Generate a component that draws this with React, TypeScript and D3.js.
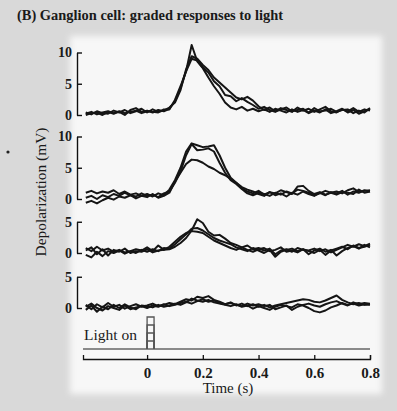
import React, { useEffect, useRef } from "react";
import * as d3 from "d3";

// time samples (s)
const TIME = [
  -0.22, -0.2, -0.18, -0.16, -0.14, -0.12, -0.1, -0.08, -0.06, -0.04, -0.02, 0.0,
  0.02, 0.04, 0.06, 0.08, 0.1, 0.12, 0.14, 0.16, 0.18, 0.2, 0.22, 0.24, 0.26, 0.28,
  0.3, 0.32, 0.34, 0.36, 0.38, 0.4, 0.42, 0.44, 0.46, 0.48, 0.5, 0.52, 0.54, 0.56,
  0.58, 0.6, 0.62, 0.64, 0.66, 0.68, 0.7, 0.72, 0.74, 0.76, 0.78, 0.8,
];

// Panel 1 (brightest light) – depolarization in mV
const P1_A = [0.2, 0.5, 0.1, 0.4, 0.6, 0.3, 0.5, 0.0, 0.8, 1.1, 0.5, 0.7, 0.4, 0.8, 0.6, 1.0, 2.2, 4.3, 7.0, 11.2, 8.6, 7.5, 6.0, 4.6, 3.4, 2.0, 1.2, 0.9, 1.3, 0.7, 1.0, 0.6, 0.9, 0.5, 1.0, 0.7, 0.4, 0.9, 0.5, 0.8, 0.3, 0.7, 0.4, 0.9, 0.3, 0.6, 1.0, 0.4, 0.8, 0.2, 0.6, 1.0];
const P1_B = [0.4, 0.1, 0.6, 0.3, 0.2, 0.7, 0.4, 0.8, 0.3, 0.6, 1.0, 0.4, 0.9, 0.5, 0.7, 1.2, 2.0, 4.0, 7.3, 9.4, 9.0, 8.0, 7.2, 6.0, 5.2, 4.4, 3.6, 2.8, 2.5, 2.9, 2.3, 1.4, 0.8, 1.2, 0.6, 1.1, 0.8, 0.5, 1.2, 0.7, 1.0, 0.5, 0.9, 1.3, 0.6, 0.4, 0.9, 0.6, 1.1, 0.5, 0.9, 0.7];
const P1_C = [0.0, 0.3, 0.4, 0.0, 0.5, 0.2, 0.6, 0.3, 0.5, 0.7, 0.3, 0.6, 0.5, 0.4, 0.9, 0.9, 2.4, 4.6, 7.0, 9.0, 8.7, 7.6, 6.8, 5.4, 4.6, 3.2, 3.0, 2.2, 2.7, 2.1, 1.6, 1.0, 1.3, 0.8, 0.5, 0.9, 1.2, 0.6, 0.8, 1.0, 0.4, 1.1, 0.6, 0.7, 1.0, 0.5, 0.8, 0.9, 0.3, 0.7, 0.4, 1.1];

// Panel 2
const P2_A = [1.0, 1.3, 0.9, 1.2, 1.0, 1.4, 0.8, 1.2, 0.7, 0.9, 0.5, 0.8, 0.4, 0.9, 0.6, 1.5, 3.0, 5.0, 7.6, 8.9, 8.6, 8.3, 8.4, 8.6, 7.0, 5.0, 3.4, 2.6, 1.7, 1.2, 0.9, 1.3, 0.7, 1.1, 0.9, 1.4, 1.1, 0.8, 2.0, 2.1, 1.3, 0.8, 1.1, 0.7, 1.0, 1.2, 0.9, 1.4, 1.7, 1.1, 1.3, 1.4];
const P2_B = [0.2, 0.5, 0.0, 0.6, 0.3, 0.8, 0.5, 1.0, 0.6, 0.4, 0.9, 0.5, 0.7, 0.3, 0.9, 1.2, 2.6, 4.4, 7.0, 8.8, 7.8, 7.9, 8.1, 7.6, 5.8, 4.2, 3.0, 2.4, 1.6, 0.9, 0.6, 1.0, 0.8, 0.5, 1.0, 0.7, 1.2, 0.9, 1.5, 1.3, 1.0, 0.6, 0.9, 1.3, 1.0, 0.7, 1.1, 1.0, 0.8, 1.5, 1.0, 1.2];
const P2_C = [-0.6, -0.3, -0.7, -0.2, 0.2, -0.1, 0.4, 0.2, 0.6, 0.1, 0.5, 0.3, 0.8, 0.2, 0.5, 1.0, 2.8, 4.2, 5.6, 6.3, 6.2, 5.8, 5.2, 4.8, 4.2, 3.8, 3.2, 2.6, 1.9, 1.5, 1.2, 0.8, 0.5, 1.1, 0.6, 0.9, 0.4, 1.0, 0.7, 1.2, 0.8, 0.5, 1.0, 0.6, 1.1, 0.9, 1.3, 0.7, 1.2, 1.0, 1.4, 1.2];

// Panel 3
const P3_A = [0.8, 0.3, 1.0, 0.4, 0.7, 0.2, 0.5, 0.1, 0.3, 0.6, 0.4, 0.9, 0.3, 1.2, 0.5, 0.6, 1.0, 1.6, 2.4, 3.6, 5.4, 4.8, 3.4, 2.8, 2.9, 2.3, 1.6, 1.3, 0.9, 1.2, 0.6, 0.8, 0.4, 0.7, -0.2, 0.4, 0.6, 0.2, 0.8, 0.5, 0.4, 0.7, 0.3, 0.6, 0.1, 0.5, 0.9, 1.3, 1.0, 1.4, 1.1, 1.5];
const P3_B = [-0.3, -0.7, 0.2, -0.5, 0.3, 0.0, 0.4, -0.1, 0.3, 0.0, 0.5, 0.2, 0.6, 0.3, 0.8, 0.7, 1.4, 2.2, 3.0, 3.9, 4.0, 3.6, 3.0, 2.4, 2.0, 1.7, 1.4, 0.9, 0.6, 0.3, 0.8, 0.4, 0.0, 0.5, -0.6, 0.2, 0.5, 0.7, 0.3, 0.6, -0.2, 0.4, 0.7, 0.2, 0.5, -0.4, 0.3, 0.8, 1.1, 0.7, 1.3, 0.9];
const P3_C = [0.4, 0.9, -0.2, 0.6, -0.4, 0.5, 0.2, 0.7, 0.0, 0.3, 0.2, 0.6, 0.1, 0.4, 0.5, 1.0, 1.8, 2.6, 3.2, 3.5, 3.4, 3.2, 2.6, 2.0, 1.6, 1.2, 0.8, 0.5, 0.9, 0.5, 0.2, 0.6, 0.8, 0.3, 0.5, 0.9, 0.2, 0.4, 0.1, 0.6, 0.3, 0.0, 0.5, -0.3, 0.4, 0.7, 1.0, 0.6, 1.2, 0.8, 1.0, 1.3];

// Panel 4 (dimmest light)
const P4_A = [0.5, -0.2, 0.6, 0.1, 0.8, 0.2, 0.5, -0.1, 0.3, 0.6, 0.2, 0.4, 0.7, 0.3, 0.5, 0.8, 0.6, 1.0, 1.4, 1.2, 1.8, 1.6, 1.9, 1.3, 1.0, 0.6, 0.9, 0.4, 0.7, 0.3, 0.6, 0.2, 0.5, 0.1, 0.4, 0.6, 0.8, 1.0, 1.2, 1.4, 1.3, 1.0, 0.9, 1.2, 1.6, 2.0, 1.3, 0.9, 0.6, 0.8, 0.5, 0.6];
const P4_B = [-0.3, 0.4, -0.6, 0.2, -0.2, 0.5, 0.0, 0.6, 0.1, -0.2, 0.4, 0.3, 0.1, 0.5, 0.2, 0.4, 0.7, 0.5, 0.9, 1.5, 1.2, 1.0, 1.3, 0.9, 0.7, 0.5, 0.3, 0.6, 0.2, 0.4, -0.1, 0.3, 0.0, -0.3, 0.2, 0.5, 0.3, 0.1, 0.6, 0.4, 0.0, -0.5, -0.7, -0.4, 0.1, 0.4, 0.8, 0.5, 0.7, 0.4, 0.6, 0.5];
const P4_C = [0.2, 0.7, 0.0, -0.4, 0.3, 0.0, -0.3, 0.4, -0.2, 0.1, 0.3, 0.0, 0.4, 0.2, 0.6, 0.3, 0.5, 0.8, 1.0, 0.7, 1.1, 1.4, 1.0, 1.2, 0.8, 0.6, 0.8, 0.5, 0.3, 0.7, 0.4, 0.6, 0.3, 0.5, -0.2, 0.1, 0.4, -0.3, 0.2, 0.5, 0.7, 0.4, 0.2, 0.6, 0.9, 1.1, 0.7, 0.4, 0.9, 0.6, 0.8, 0.7];

const PANEL_MAX = [10, 10, 5, 5];
const PANEL_TICKS = [[0, 5, 10], [0, 5, 10], [0, 5], [0, 5]];
const PANEL_TRACES = [
  [P1_A, P1_B, P1_C],
  [P2_A, P2_B, P2_C],
  [P3_A, P3_B, P3_C],
  [P4_A, P4_B, P4_C],
];

const X_TICKS = [0, 0.2, 0.4, 0.6, 0.8];
const X_DOMAIN = [-0.23, 0.8];
const STIM_LEVELS = [1, 2, 3, 4];
const STIM_ON = 0;
const STIM_OFF = 0.025;

const TITLE = "(B)  Ganglion cell: graded responses to light";
const Y_TITLE = "Depolarization (mV)";
const X_TITLE = "Time (s)";

const FONT = "'Liberation Serif', 'Times New Roman', serif";

// layout
const W = 397;
const H = 411;
const X0 = 83;
const X1 = 370;
const AXIS_X = 77;
const PANEL_ZERO = [115, 199, 253, 308];
const PX_PER_MV = 6.25;
const STIM_BASE = 349;
const STIM_TOP = 317;
const XAXIS_Y = 359;

export default function App() {
  const gRef = useRef<SVGGElement>(null);
  const x = d3.scaleLinear().domain(X_DOMAIN).range([X0, X1]);
  const yScales = PANEL_MAX.map((m, i) =>
    d3.scaleLinear().domain([0, m]).range([PANEL_ZERO[i], PANEL_ZERO[i] - m * PX_PER_MV])
  );
  const stimY = d3.scaleLinear().domain([0, 4]).range([STIM_BASE, STIM_TOP]);

  useEffect(() => {
    const g = d3.select(gRef.current);
    g.selectAll("*").remove();
    yScales.forEach((y, i) => {
      const ax = g
        .append("g")
        .attr("transform", `translate(${AXIS_X},0)`)
        .call(
          d3
            .axisLeft(y)
            .tickValues(PANEL_TICKS[i])
            .tickSizeInner(-5)
            .tickSizeOuter(0)
            .tickPadding(5)
            .tickFormat(d3.format("d"))
        );
      ax.select(".domain").attr("stroke", "#111").attr("stroke-width", 1.4);
      ax.selectAll(".tick line").attr("stroke", "#111").attr("stroke-width", 1.4);
      ax.selectAll(".tick text")
        .attr("font-family", FONT)
        .attr("font-size", 14)
        .attr("font-weight", "bold")
        .attr("fill", "#1a1a1a");
    });
    const xa = g
      .append("g")
      .attr("transform", `translate(0,${XAXIS_Y})`)
      .call(
        d3
          .axisBottom(x)
          .tickValues(X_TICKS)
          .tickSizeInner(-4)
          .tickSizeOuter(-4)
          .tickPadding(8)
          .tickFormat((d: any) => (d === 0 ? "0" : d3.format(".1f")(d)))
      );
    xa.select(".domain").attr("stroke", "#111").attr("stroke-width", 1.3);
    xa.selectAll(".tick line").attr("stroke", "#111").attr("stroke-width", 1.3);
    xa.selectAll(".tick text")
      .attr("font-family", FONT)
      .attr("font-size", 15)
      .attr("font-weight", "bold")
      .attr("fill", "#1a1a1a");
  }, []);

  const lines = yScales.map((y) =>
    d3
      .line<number>()
      .x((_, i) => x(TIME[i]))
      .y((d) => y(d))
  );

  return (
    <svg
      width={W}
      height={H}
      style={{ position: "absolute", left: 0, top: 0, display: "block" }}
    >
      <defs>
        <filter id="soft" x="-10%" y="-10%" width="120%" height="120%">
          <feGaussianBlur stdDeviation="3" />
        </filter>
      </defs>
      <rect x={0} y={0} width={W} height={H} fill="#d9d9d9" />
      <rect x={70} y={36} width={312} height={358} fill="#f7f7f7" filter="url(#soft)" />
      <circle cx={8} cy={152} r={1.6} fill="#222" />
      <text
        x={17}
        y={20}
        fontFamily={FONT}
        fontWeight="bold"
        fontSize={14}
        fill="#1a1a1a"
        textLength={266}
        lengthAdjust="spacingAndGlyphs"
      >
        {TITLE}
      </text>
      <text
        transform={`translate(46,192) rotate(-90)`}
        textAnchor="middle"
        fontFamily={FONT}
        fontSize={15}
        fill="#1a1a1a"
        textLength={129}
        lengthAdjust="spacingAndGlyphs"
      >
        {Y_TITLE}
      </text>
      <text
        x={228}
        y={393}
        textAnchor="middle"
        fontFamily={FONT}
        fontSize={15}
        fill="#1a1a1a"
      >
        {X_TITLE}
      </text>
      <text
        x={84}
        y={340}
        fontFamily={FONT}
        fontSize={14}
        fill="#1a1a1a"
        textLength={53}
        lengthAdjust="spacingAndGlyphs"
      >
        Light on
      </text>
      {/* stimulus trace */}
      <line
        x1={x(X_DOMAIN[0])}
        x2={x(X_DOMAIN[1])}
        y1={stimY(0)}
        y2={stimY(0)}
        stroke="#666"
        strokeWidth={1.4}
      />
      {STIM_LEVELS.map((lv) => (
        <path
          key={lv}
          d={`M${x(STIM_ON)},${stimY(0)}V${stimY(lv)}H${x(STIM_OFF)}V${stimY(0)}`}
          fill="none"
          stroke="#555"
          strokeWidth={1.3}
        />
      ))}
      {/* responses */}
      {PANEL_TRACES.map((traces, p) =>
        traces.map((tr, k) => (
          <path
            key={`${p}-${k}`}
            d={lines[p](tr) || ""}
            fill="none"
            stroke="#151515"
            strokeWidth={2}
            strokeLinejoin="round"
          />
        ))
      )}
      <g ref={gRef} />
    </svg>
  );
}
